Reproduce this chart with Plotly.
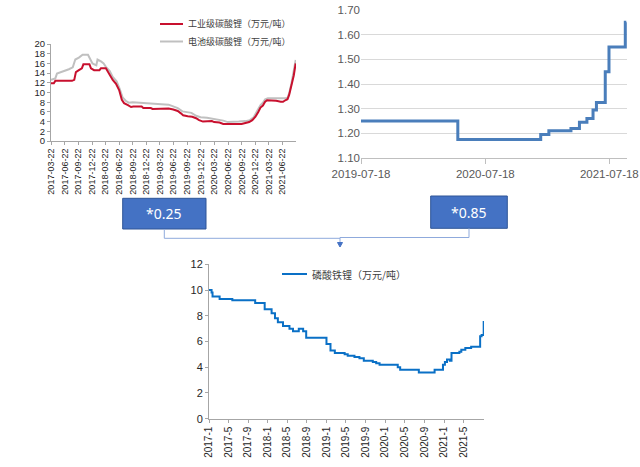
import plotly.graph_objects as go

W, H = 640, 467
FONT = "Liberation Sans, Arial, sans-serif"
CJK = "Noto Sans CJK SC"

# 碳酸锂价格(万元/吨)
li_ind_dates = ["2017-03-22", "2017-04-10", "2017-04-20", "2017-08-10", "2017-08-25", "2017-09-05",
                "2017-09-25", "2017-10-15", "2017-10-25", "2017-12-05", "2017-12-15", "2018-01-05",
                "2018-02-10", "2018-02-20", "2018-03-25", "2018-04-10", "2018-04-25", "2018-05-10",
                "2018-06-01", "2018-06-22", "2018-07-10", "2018-07-25", "2018-08-20", "2018-09-10",
                "2018-09-25", "2018-11-20", "2018-12-01", "2019-01-20", "2019-02-01", "2019-03-20",
                "2019-04-05", "2019-05-20", "2019-06-20", "2019-07-20", "2019-08-10", "2019-08-25",
                "2019-09-25", "2019-10-25", "2019-11-20", "2019-12-10", "2020-01-05", "2020-02-15",
                "2020-03-05", "2020-03-20", "2020-04-25", "2020-05-20", "2020-06-22", "2020-07-10",
                "2020-09-20", "2020-10-20", "2020-11-10", "2020-12-01", "2020-12-22", "2021-01-10",
                "2021-01-25", "2021-02-10", "2021-02-25", "2021-03-10", "2021-04-10", "2021-05-10",
                "2021-06-10", "2021-06-25", "2021-07-10", "2021-07-25", "2021-08-05", "2021-08-20",
                "2021-09-05", "2021-09-18"]
li_ind_vals = [11.9, 11.9, 12.4, 12.4, 12.6, 14.2,
               14.6, 15.0, 15.8, 15.8, 15.0, 14.6,
               14.6, 15.0, 15.0, 14.2, 13.5, 12.6,
               11.8, 10.5, 8.5, 7.8, 7.4, 7.0,
               7.1, 7.1, 6.8, 6.8, 6.6, 6.6,
               6.7, 6.7, 6.5, 6.2, 5.7, 5.3,
               5.1, 5.0, 4.7, 4.3, 4.0, 4.0,
               4.1, 3.9, 3.8, 3.5, 3.4, 3.5,
               3.5, 3.7, 3.9, 4.3, 5.0, 6.0,
               6.9, 7.3, 8.1, 8.4, 8.4, 8.3,
               8.1, 8.1, 8.4, 8.6, 9.5, 11.5,
               13.5, 16.0]

li_bat_dates = ["2017-03-22", "2017-04-20", "2017-05-01", "2017-06-01", "2017-06-20", "2017-07-20",
                "2017-08-15", "2017-09-01", "2017-09-25", "2017-10-20", "2017-11-25", "2017-12-10",
                "2017-12-25", "2018-01-20", "2018-01-28", "2018-02-20", "2018-03-10", "2018-03-25",
                "2018-04-20", "2018-05-10", "2018-06-05", "2018-06-25", "2018-07-15", "2018-08-05",
                "2018-08-25", "2018-09-20", "2018-12-01", "2019-02-01", "2019-04-01", "2019-05-20",
                "2019-06-20", "2019-07-20", "2019-08-20", "2019-09-25", "2019-10-20", "2019-11-20",
                "2019-12-20", "2020-02-01", "2020-03-10", "2020-04-20", "2020-05-20", "2020-06-20",
                "2020-08-01", "2020-09-01", "2020-10-15", "2020-11-15", "2020-12-10", "2020-12-25",
                "2021-01-10", "2021-01-25", "2021-02-10", "2021-02-25", "2021-03-15", "2021-05-10",
                "2021-06-20", "2021-07-10", "2021-07-25", "2021-08-05", "2021-08-20", "2021-09-05",
                "2021-09-18"]
li_bat_vals = [12.6, 12.9, 13.9, 14.2, 14.5, 14.8,
               15.2, 16.8, 17.2, 17.8, 17.8, 16.8,
               16.0, 15.6, 16.8, 16.4, 16.0, 15.3,
               14.4, 13.2, 12.3, 10.8, 9.0, 8.3,
               7.9, 8.0, 7.9, 7.7, 7.6, 7.5,
               7.2, 6.8, 6.1, 5.9, 5.8, 5.2,
               4.9, 4.8, 4.6, 4.4, 4.2, 3.9,
               3.9, 4.0, 4.1, 4.3, 4.9, 5.6,
               6.6, 7.4, 7.9, 8.6, 8.8, 8.8,
               8.7, 8.8, 8.9, 9.8, 11.8, 14.2,
               16.7]

li1_ticks = ["2017-03-22", "2017-06-22", "2017-09-22", "2017-12-22", "2018-03-22", "2018-06-22",
             "2018-09-22", "2018-12-22", "2019-03-22", "2019-06-22", "2019-09-22", "2019-12-22",
             "2020-03-22", "2020-06-22", "2020-09-22", "2020-12-22", "2021-03-22", "2021-06-22"]

# 右上:阶梯价格
p2_dates = ["2019-07-18", "2020-04-28", "2020-12-28", "2021-01-21", "2021-03-27", "2021-04-21",
            "2021-05-13", "2021-05-31", "2021-06-10", "2021-07-06", "2021-07-17", "2021-09-03",
            "2021-09-06"]
p2_vals = [1.25, 1.175, 1.195, 1.21, 1.22, 1.245, 1.26, 1.295, 1.325, 1.45, 1.55, 1.65, 1.65]
p2_ticks = ["2019-07-18", "2020-07-18", "2021-07-18"]

# 磷酸铁锂(万元/吨)
lfp_dates = ["2017-01-01", "2017-01-17", "2017-01-23", "2017-03-08", "2017-05-26", "2017-10-15",
             "2017-12-13", "2018-01-25", "2018-02-15", "2018-03-05", "2018-04-06", "2018-05-16",
             "2018-06-07", "2018-07-13", "2018-08-09", "2018-08-28", "2019-01-01", "2019-01-26",
             "2019-02-22", "2019-04-24", "2019-05-13", "2019-06-24", "2019-07-25", "2019-08-21",
             "2019-10-16", "2019-11-06", "2019-11-27", "2020-03-19", "2020-04-03", "2020-07-28",
             "2020-11-03", "2020-12-25", "2021-01-06", "2021-01-19", "2021-02-06", "2021-02-16",
             "2021-04-06", "2021-04-18", "2021-05-13", "2021-06-18", "2021-08-13", "2021-08-22",
             "2021-08-30", "2021-09-04"]
lfp_vals = [10.0, 9.8, 9.5, 9.3, 9.2, 9.0,
            8.5, 8.2, 7.8, 7.5, 7.2, 7.0,
            6.8, 7.0, 6.8, 6.3, 5.8, 5.3,
            5.1, 5.0, 4.9, 4.8, 4.7, 4.5,
            4.4, 4.3, 4.2, 4.0, 3.8, 3.6,
            3.8, 4.2, 4.4, 4.6, 4.5, 5.1,
            5.2, 5.35, 5.5, 5.6, 6.4, 6.5,
            6.5, 7.6]
lfp_ticks = ["2017-01-01", "2017-05-01", "2017-09-01", "2018-01-01", "2018-05-01", "2018-09-01",
             "2019-01-01", "2019-05-01", "2019-09-01", "2020-01-01", "2020-05-01", "2020-09-01",
             "2021-01-01", "2021-05-01"]
lfp_ticktext = ["2017-1", "2017-5", "2017-9", "2018-1", "2018-5", "2018-9", "2019-1", "2019-5",
                "2019-9", "2020-1", "2020-5", "2020-9", "2021-1", "2021-5"]


def px(x):
    return x / W


def py(y):
    return 1 - y / H


fig = go.Figure()
fig.add_trace(go.Scatter(x=li_bat_dates, y=li_bat_vals, mode="lines", xaxis="x", yaxis="y",
                         line=dict(color="#c0c0c0", width=2)))
fig.add_trace(go.Scatter(x=li_ind_dates, y=li_ind_vals, mode="lines", xaxis="x", yaxis="y",
                         line=dict(color="#c8102e", width=2)))
fig.add_trace(go.Scatter(x=p2_dates, y=p2_vals, mode="lines", xaxis="x2", yaxis="y2",
                         line=dict(color="#4a7ebb", width=3, shape="hv")))
fig.add_trace(go.Scatter(x=lfp_dates, y=lfp_vals, mode="lines", xaxis="x3", yaxis="y3",
                         line=dict(color="#0a70c6", width=2, shape="hv")))

ax_grey = "#a6a6a6"
fig.update_layout(
    width=W, height=H, margin=dict(l=0, r=0, t=0, b=0, autoexpand=False),
    paper_bgcolor="white", plot_bgcolor="white", showlegend=False,
    font=dict(family=FONT, color="#262626"),
    xaxis=dict(domain=[px(51), px(296)], anchor="y", type="date", automargin=False,
               range=["2017-03-22", "2021-09-20"], tickvals=li1_ticks, ticktext=li1_ticks,
               tickangle=-90, tickfont=dict(size=9, color="#262626"),
               showgrid=False, showline=True, linecolor=ax_grey, ticks="outside",
               ticklen=3, tickcolor=ax_grey),
    yaxis=dict(domain=[py(141), py(44)], anchor="x", range=[0, 20], dtick=2, automargin=False,
               tickfont=dict(size=9.5, color="#262626"), showgrid=False, showline=True,
               linecolor=ax_grey, ticks="outside", ticklen=3, tickcolor=ax_grey, zeroline=False),
    xaxis2=dict(domain=[px(361), px(627)], anchor="y2", type="date", automargin=False,
                range=["2019-07-18", "2021-09-08"], tickvals=p2_ticks, ticktext=p2_ticks,
                tickangle=0, tickfont=dict(size=11.5, color="#595959"), showgrid=False,
                showline=True, linecolor="#bfbfbf", ticks="outside", ticklen=5,
                tickcolor="#bfbfbf"),
    yaxis2=dict(domain=[py(158), py(10)], anchor="x2", range=[1.10, 1.70], dtick=0.1,
                tickformat=".2f", tickfont=dict(size=11.5, color="#595959"), automargin=False,
                showgrid=True, gridcolor="#d9d9d9", showline=False, zeroline=False),
    xaxis3=dict(domain=[px(209), px(484)], anchor="y3", type="date", automargin=False,
                range=["2017-01-01", "2021-09-06"], tickvals=lfp_ticks, ticktext=lfp_ticktext,
                tickangle=-90, tickfont=dict(size=10, color="#262626"), showgrid=False,
                showline=True, linecolor=ax_grey, ticks="outside", ticklen=3, tickcolor=ax_grey),
    yaxis3=dict(domain=[py(418.7), py(264.3)], anchor="x3", range=[0, 12], dtick=2,
                automargin=False,
                tickfont=dict(size=11, color="#262626"), showgrid=False, showline=True,
                linecolor=ax_grey, ticks="outside", ticklen=3, tickcolor=ax_grey, zeroline=False),
)

shapes = []
annos = []

# 图例(手绘)
for y0, color, label in [(24, "#c8102e", "工业级碳酸锂（万元/吨）"),
                         (41.5, "#c0c0c0", "电池级碳酸锂（万元/吨）")]:
    shapes.append(dict(type="line", xref="paper", yref="paper", x0=px(160), x1=px(183),
                       y0=py(y0), y1=py(y0), line=dict(color=color, width=2)))
    annos.append(dict(xref="paper", yref="paper", x=px(186), y=py(y0), xanchor="left",
                      yanchor="middle", text=label, showarrow=False,
                      font=dict(family=CJK, size=9, color="#404040")))
shapes.append(dict(type="line", xref="paper", yref="paper", x0=px(282), x1=px(307),
                   y0=py(274), y1=py(274), line=dict(color="#0a70c6", width=2)))
annos.append(dict(xref="paper", yref="paper", x=px(310), y=py(274), xanchor="left",
                  yanchor="middle", text="磷酸铁锂（万元/吨）", showarrow=False,
                  font=dict(family=CJK, size=10, color="#404040")))

# 系数框
for (x0, x1, y0, y1), label in [((122.7, 206, 198.3, 229), "*0.25"),
                                ((430.7, 507.3, 196, 228.3), "*0.85")]:
    shapes.append(dict(type="rect", xref="paper", yref="paper", x0=px(x0), x1=px(x1),
                       y0=py(y1), y1=py(y0), fillcolor="#4472c4",
                       line=dict(color="#2f5597", width=1)))
    annos.append(dict(xref="paper", yref="paper", x=px((x0 + x1) / 2), y=py((y0 + y1) / 2),
                      xanchor="center", yanchor="middle", text=label, showarrow=False,
                      font=dict(family="Noto Sans", size=14, color="white")))

# 连接线
conn = "#8faadc"
shapes.append(dict(type="path", xref="paper", yref="paper",
                   path=f"M {px(164.3)},{py(229)} L {px(164.3)},{py(238.3)} L {px(340)},{py(238.3)}",
                   line=dict(color=conn, width=1)))
shapes.append(dict(type="path", xref="paper", yref="paper",
                   path=f"M {px(469)},{py(228.3)} L {px(469)},{py(237.5)} L {px(340)},{py(237.5)} "
                        f"L {px(340)},{py(243)}",
                   line=dict(color=conn, width=1)))
shapes.append(dict(type="path", xref="paper", yref="paper",
                   path=f"M {px(337.5)},{py(242.5)} L {px(342.5)},{py(242.5)} L {px(340)},{py(247)} Z",
                   fillcolor="#4472c4", line=dict(color="#4472c4", width=1)))

fig.update_layout(shapes=shapes, annotations=annos)
fig.write_html("out.html", config=dict(displayModeBar=False),
               post_script="document.body.style.margin='0';document.body.style.overflow='hidden';")
